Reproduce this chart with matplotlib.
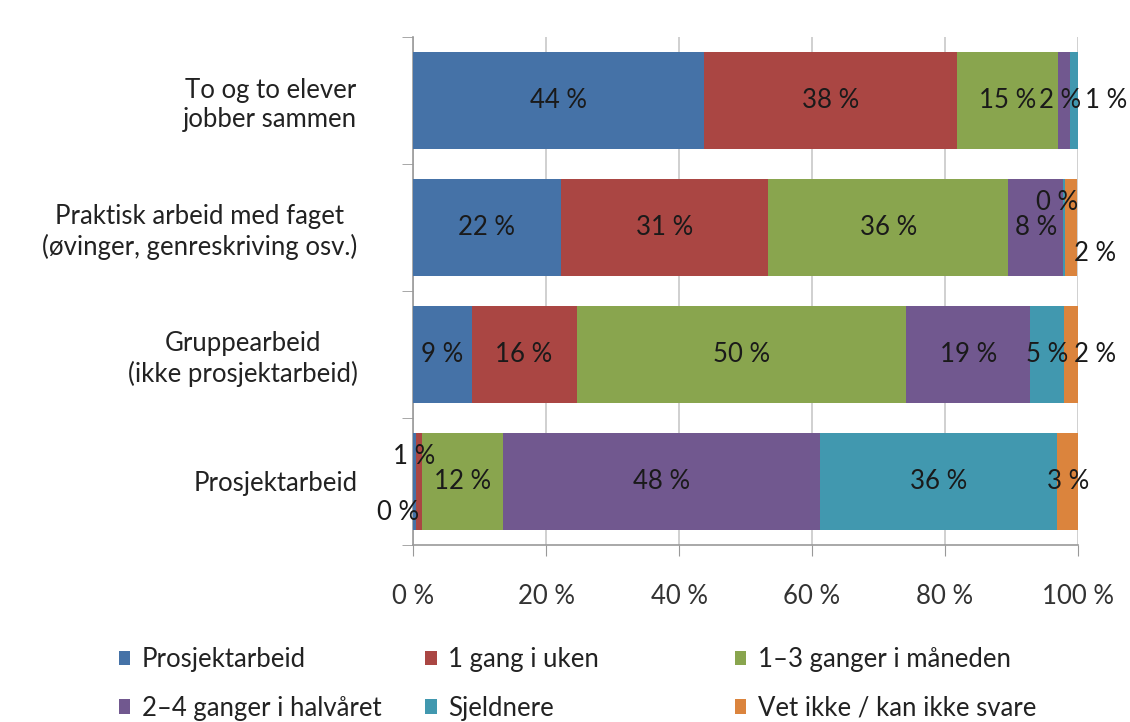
import matplotlib
matplotlib.use("Agg")
import matplotlib.pyplot as plt
from matplotlib.patches import Patch
import numpy as np

plt.rcParams['font.family'] = ['Lato', 'DejaVu Sans']

categories = ["To og to elever\njobber sammen",
              "Praktisk arbeid med faget\n(øvinger, genreskriving osv.)",
              "Gruppearbeid\n(ikke prosjektarbeid)",
              "Prosjektarbeid"]
series = ["Prosjektarbeid", "1 gang i uken", "1–3 ganger i måneden",
          "2–4 ganger i halvåret", "Sjeldnere", "Vet ikke / kan ikke svare"]
# values per series, in category order above
s_prosjekt = [43.7, 22.2, 8.8, 0.4]
s_uke = [38.1, 31.2, 15.8, 0.9]
s_maned = [15.2, 36.1, 49.6, 12.3]
s_halvar = [1.8, 8.3, 18.6, 47.6]
s_sjeldnere = [1.2, 0.3, 5.1, 35.7]
s_vetikke = [0.0, 1.8, 2.1, 3.1]
values = [s_prosjekt, s_uke, s_maned, s_halvar, s_sjeldnere, s_vetikke]
colors = ["#4572A7", "#AA4643", "#89A54E", "#71588F", "#4198AF", "#DB843D"]
xticks = [0, 20, 40, 60, 80, 100]

FS = 18.5
# label offsets (points) for labels moved out of their segment: (series, category) -> (dx, dy)
offsets = {(3, 0): (-3, 0), (4, 0): (23, 0), (4, 1): (-5, 18), (5, 1): (17, -19),
           (5, 2): (17, 0), (0, 3): (-12, -22), (1, 3): (-3, 18)}
hidden = {(5, 0)}

fig = plt.figure(figsize=(11.3, 7.22), dpi=100)
ax = fig.add_axes([0.3655, 0.2452, 0.5885, 0.7036])

ypos = np.arange(len(categories))[::-1]
left = np.zeros(len(categories))
for si, (name, vals, col) in enumerate(zip(series, values, colors)):
    vals = np.array(vals)
    ax.barh(ypos, vals, left=left, height=0.76, color=col, label=name, zorder=3)
    for ci, v in enumerate(vals):
        if (si, ci) in hidden:
            continue
        dx, dy = offsets.get((si, ci), (0, 0))
        ax.annotate(f"{round(v)} %", xy=(left[ci] + v / 2, ypos[ci]),
                    xytext=(dx, dy), textcoords="offset points",
                    ha="center", va="center", fontsize=FS, color="#1a1a1a", zorder=5)
    left += vals

ax.set_xlim(0, 100)
ax.set_ylim(-0.5, len(categories) - 0.5)
ax.set_xticks(xticks)
ax.set_xticklabels([f"{t} %" for t in xticks], fontsize=FS, color="#333333")
ax.set_yticks(ypos)
ax.set_yticklabels(categories, fontsize=FS, color="#222222", ha="right", ma="center")
ax.set_yticks(np.arange(-0.5, len(categories), 1.0), minor=True)
ax.tick_params(axis="y", which="major", length=0, pad=40)
ax.tick_params(axis="y", which="minor", length=8, color="#999999", direction="out")
ax.tick_params(axis="x", length=8, color="#999999", pad=20)
ax.xaxis.grid(True, color="#C8C8C8", linewidth=1.2, zorder=0)
for s in ["top", "right"]:
    ax.spines[s].set_visible(False)
for s in ["left", "bottom"]:
    ax.spines[s].set_color("#999999")
    ax.spines[s].set_linewidth(1.2)

handles = [Patch(facecolor=c, edgecolor="none") for c in colors]
col_x = [0.096, 0.367, 0.641]
for k in range(3):
    idx = [k, k + 3]
    leg = fig.legend([handles[i] for i in idx], [series[i] for i in idx],
                     loc="upper left", bbox_to_anchor=(col_x[k], 0.118),
                     frameon=False, fontsize=FS, handlelength=0.45, handleheight=0.5,
                     handletextpad=0.45, labelspacing=0.92, borderaxespad=0)
    for t in leg.get_texts():
        t.set_color("#222222")

fig.savefig("out.png", dpi=100, facecolor="white")
